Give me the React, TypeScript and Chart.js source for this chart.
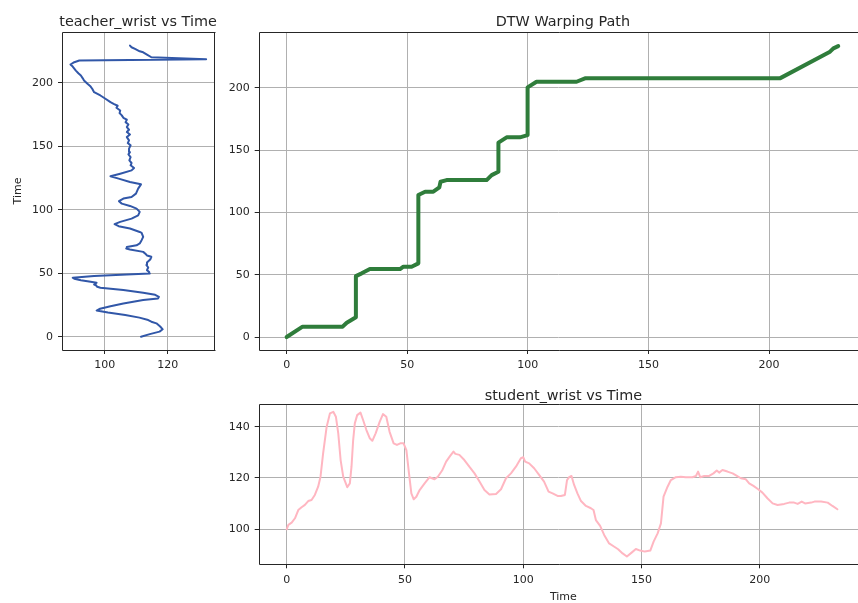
import React, { useEffect, useRef } from "react";
import { Chart, registerables } from "chart.js";
Chart.register(...registerables);

const FAMILY = "'DejaVu Sans', sans-serif";
const TEXT = "#262626";

// ---- teacher_wrist (value vs time) ----
const teacherTime = [0, 2, 4, 5.8, 8, 10.5, 11.8, 13.1, 15, 17, 19, 20.6, 22, 24, 26.2, 28.8, 30.1, 31.4, 33, 34.6, 36.7, 38.6, 39.3, 40.5, 41.1, 42.5, 43.5, 44.5, 45.6, 46.4, 47.7, 49, 49.8, 51, 52.4, 54.5, 56.5, 58.4, 61, 62.9, 64, 65.3, 66.8, 68.7, 69.4, 70.7, 72, 73.4, 76, 78.6, 81.8, 82.5, 85.2, 87, 88.6, 90.4, 93, 95.6, 98.3, 100.9, 103, 104.8, 106.7, 108.8, 110, 112.7, 116.6, 120, 121.9, 124.5, 126.3, 128.4, 131, 132.9, 135, 136.8, 138.9, 141.5, 143.6, 145.4, 148.1, 150.7, 152.5, 154.6, 157.2, 159.3, 161.2, 163, 165.1, 167.2, 169, 170.9, 172.4, 174.3, 176.1, 178.2, 180.3, 181.9, 183.4, 184.7, 187.4, 190, 192.6, 195.3, 197, 199.2, 201.8, 203.5, 205.7, 207.5, 209.6, 212.8, 214.4, 216.2, 217.5, 218.5, 220.1, 222.2, 224, 224.8, 226.7, 228, 229.3];
const teacherWrist = [111.5, 114.3, 117.4, 118.4, 117.6, 116.4, 114.8, 113.8, 111, 106.5, 101, 97.4, 98.5, 101.8, 105.9, 112.2, 116.9, 117.2, 116, 112.2, 105.9, 98.6, 97.6, 97.2, 96.6, 97.4, 95, 92.4, 90.3, 89.8, 96.6, 107, 114.3, 114.1, 113.4, 113.8, 113.2, 113.4, 114.5, 114.8, 113.4, 112.9, 112.2, 108, 106.8, 107, 110.1, 111.1, 111.7, 112.2, 111.7, 111.1, 108, 104.4, 103.1, 104.9, 108.5, 110.6, 111.1, 110.1, 108, 105.4, 104.5, 105.9, 108.5, 109.9, 110.6, 111.5, 108, 104.4, 101.8, 104.9, 108.5, 109.3, 108.2, 108.5, 107.8, 108.2, 107.5, 108, 107.7, 108.2, 107.3, 107.7, 107, 108, 107, 107.7, 107, 107.5, 106.6, 107, 105.9, 105.4, 104.7, 104.9, 103.7, 104.1, 102.8, 101.8, 100.2, 98.6, 96.6, 96, 95.5, 94.5, 93.4, 93, 92.4, 91.6, 90.8, 89.8, 89.1, 90.3, 91.9, 132.2, 114.8, 113.4, 112.2, 111.1, 109.6, 108.5, 108];

// ---- DTW warping path ----
const dtwTeacherIdx = [0, 6.6, 23.2, 24.9, 26.3, 28.7, 28.7, 31.1, 34.5, 47, 48.4, 51.8, 54.6, 54.6, 57.4, 60.8, 63.3, 63.8, 66.3, 82.9, 85, 87.8, 87.8, 91.2, 96.7, 99.9, 99.9, 103.6, 120.2, 123.7, 204.5, 225.3, 226.7, 228.7];
const dtwStudentIdx = [0, 8.3, 8.3, 11.5, 13.1, 15.8, 48.9, 51.1, 54.5, 54.5, 56.4, 56.4, 59.1, 113.9, 116.6, 116.6, 120, 124.6, 125.9, 125.9, 129.9, 132.6, 155.9, 160.2, 160.2, 162, 200.3, 204.8, 204.8, 207.5, 207.5, 228.9, 231.6, 233.4];

// ---- student_wrist vs time ----
const studentTime = [0, 0.7, 2.1, 3.5, 4.9, 6.3, 7.7, 9.1, 10.5, 11.9, 13.3, 14.3, 15.4, 16.9, 18.3, 19.7, 20.8, 21.8, 22.8, 23.9, 25.6, 26.7, 27.4, 28.1, 28.8, 29.8, 31.2, 32.3, 33.7, 35.1, 36.2, 37.6, 39.3, 40.7, 42.1, 43.5, 45.2, 46.6, 48, 49.4, 50.6, 51.7, 52.7, 53.7, 54.8, 56.2, 58.3, 60.4, 62.5, 63.9, 65.7, 67.4, 69.1, 70.5, 71.3, 73, 75.1, 77.2, 79.4, 81.5, 83.6, 85.7, 88.5, 90.6, 92.7, 94.8, 96.9, 99, 100, 100.8, 102.5, 104.6, 106.7, 108.8, 110.7, 112.4, 114.5, 115.9, 117.6, 118.5, 119.4, 120.4, 121.5, 122.9, 124.4, 126.5, 128.6, 129.7, 130.7, 132.5, 134.2, 136.3, 138.5, 140.1, 142, 143.8, 145.8, 147.6, 149.4, 151.4, 153.7, 155.1, 156.8, 158.2, 159.3, 161, 162.4, 164.5, 166.6, 168.7, 171.5, 173, 173.9, 174.8, 176.5, 178.6, 180.4, 181.8, 182.8, 184.2, 186.3, 188.5, 190.3, 192, 194.1, 195.5, 197.3, 199.3, 201.1, 203.2, 205.4, 207.5, 210.3, 212.4, 214.5, 216, 217.7, 219.1, 221.7, 223.1, 225.9, 228.7, 230.7, 232.8];
const studentWrist = [100, 101.7, 102.6, 104.3, 107.5, 108.6, 109.5, 111, 111.4, 113.4, 116.6, 120.5, 129.6, 140, 145.2, 145.8, 143.9, 137.4, 127, 120.5, 116.4, 117.9, 124.4, 134.8, 141.3, 144.5, 145.5, 142.6, 138.7, 135.5, 134.5, 137.4, 141.9, 144.9, 143.9, 138, 133.5, 132.9, 133.5, 133.5, 130.9, 121.8, 114, 111.7, 112.7, 115.3, 117.9, 120.3, 119.5, 120.5, 122.9, 126.4, 128.6, 130.3, 129.4, 129, 127, 124.4, 121.8, 118.6, 115.3, 113.6, 113.8, 115.6, 119.9, 121.8, 124.4, 127.7, 128.1, 126.4, 125.7, 123.8, 121.2, 118.6, 114.7, 114, 113, 113, 113.4, 119.2, 120.3, 120.8, 117.3, 114, 111, 109.1, 108.2, 107.5, 103.6, 101.3, 97.8, 94.5, 93.2, 92.2, 90.6, 89.4, 90.9, 92.3, 91.7, 91.3, 91.7, 95.2, 98.4, 102.3, 112.7, 116.6, 119.2, 120.3, 120.5, 120.3, 120.3, 120.8, 122.5, 120.3, 120.8, 120.8, 121.8, 122.9, 122.1, 123.1, 122.5, 121.8, 120.8, 119.9, 119.5, 117.9, 116.9, 115.6, 114.3, 112.1, 110.1, 109.5, 109.9, 110.4, 110.4, 109.9, 110.8, 110.1, 110.4, 110.8, 110.8, 110.4, 109.1, 107.8];

// ---- tick labels ----
const teacherXTicks = [100, 120];
const timeTicks = [0, 50, 100, 150, 200];
const studentYTicks = [100, 120, 140];

// spines: left/top/bottom always; right one only when it lies inside the figure
const framePlugin = {
  id: "frame",
  afterDraw(chart: any, _args: any, opts: any) {
    const { ctx, chartArea } = chart;
    const l = Math.round(chartArea.left) + 0.5;
    const t = Math.round(chartArea.top) + 0.5;
    const r = Math.round(chartArea.right) + 0.5;
    const b = Math.round(chartArea.bottom) + 0.5;
    ctx.save();
    ctx.strokeStyle = TEXT;
    ctx.lineWidth = 1;
    ctx.beginPath();
    ctx.moveTo(r + 1, t);
    ctx.lineTo(l, t);
    ctx.lineTo(l, b);
    ctx.lineTo(r + 1, b);
    if (opts && opts.right) {
      ctx.moveTo(r, t);
      ctx.lineTo(r, b);
    }
    ctx.stroke();
    ctx.restore();
  },
};

// axes title centred over the plot area (like matplotlib's set_title), optional x label
const axTitlePlugin = {
  id: "axTitle",
  afterDraw(chart: any, _args: any, opts: any) {
    const { ctx, chartArea } = chart;
    ctx.save();
    ctx.font = `14.4px ${FAMILY}`;
    ctx.fillStyle = TEXT;
    ctx.textAlign = "center";
    ctx.textBaseline = "alphabetic";
    ctx.fillText(opts.text, opts.centerX, chartArea.top - opts.gap);
    if (opts.xlabel) {
      ctx.font = `11px ${FAMILY}`;
      ctx.textBaseline = "middle";
      ctx.fillText(opts.xlabel, opts.centerX, chart.height - 8.1);
    }
    ctx.restore();
  },
};

function axis(min: number, max: number, ticks: number[], horizontal: boolean, size: number, title?: any) {
  return {
    type: "linear",
    min,
    max,
    afterBuildTicks: (s: any) => {
      s.ticks = ticks.map((v) => ({ value: v }));
    },
    afterFit: (s: any) => {
      if (horizontal) s.height = size;
      else s.width = size;
    },
    grid: { color: "#b0b0b0", lineWidth: 1, drawTicks: true, tickLength: 4, tickColor: TEXT, tickWidth: 1 },
    border: { display: false },
    ticks: {
      font: { family: FAMILY, size: 11 },
      color: TEXT,
      padding: 5,
      autoSkip: false,
      maxRotation: 0,
      callback: (v: any) => String(v),
    },
    title: title || { display: false },
  };
}

function toPoints(xs: number[], ys: number[]) {
  return xs.map((x, i) => ({ x, y: ys[i] }));
}

function makeConfig(opts: {
  title: string;
  titleX: number;
  gap: number;
  top: number;
  xlabel?: string;
  data: { x: number; y: number }[];
  color: string;
  width: number;
  x: any;
  y: any;
  padRight: number;
  rightSpine: boolean;
}) {
  return {
    type: "scatter",
    data: {
      datasets: [
        {
          data: opts.data,
          showLine: true,
          borderColor: opts.color,
          backgroundColor: opts.color,
          borderWidth: opts.width,
          pointRadius: 0,
          tension: 0,
          borderJoinStyle: "round",
          borderCapStyle: "round",
        },
      ],
    },
    options: {
      animation: false,
      responsive: false,
      layout: { padding: { left: 0, top: opts.top, bottom: 0, right: opts.padRight } },
      plugins: {
        legend: { display: false },
        tooltip: { enabled: false },
        title: { display: false },
        frame: { right: opts.rightSpine },
        axTitle: { text: opts.title, gap: opts.gap, centerX: opts.titleX, xlabel: opts.xlabel || "" },
      },
      scales: { x: opts.x, y: opts.y },
    },
    plugins: [framePlugin, axTitlePlugin],
  };
}

function Panel({ box, config }: { box: { left: number; top: number; width: number; height: number }; config: () => any }) {
  const ref = useRef<HTMLCanvasElement>(null);
  useEffect(() => {
    const chart = new Chart(ref.current as HTMLCanvasElement, config());
    return () => chart.destroy();
  }, []);
  return (
    <canvas
      ref={ref}
      width={box.width}
      height={box.height}
      style={{ position: "absolute", left: box.left, top: box.top, width: box.width, height: box.height }}
    />
  );
}

const axisTitleFont = { family: FAMILY, size: 11 };

export default function App() {
  return (
    <div style={{ position: "fixed", left: 0, top: 0, width: 858, height: 603, overflow: "hidden", background: "#fff" }}>
      <Panel
        box={{ left: 0, top: 0, width: 230, height: 375 }}
        config={() =>
          makeConfig({
            title: "teacher_wrist vs Time",
            titleX: 138,
            gap: 6.5,
            top: 32,
            data: toPoints(teacherWrist, teacherTime),
            color: "#3157a8",
            width: 2,
            padRight: 16,
            rightSpine: true,
            x: axis(86.4, 134.7, teacherXTicks, true, 25),
            y: axis(-10.5, 240, timeTicks, false, 62, {
              display: true,
              text: "Time",
              color: TEXT,
              font: axisTitleFont,
              padding: { top: 11.5, bottom: 0 },
            }),
          })
        }
      />
      <Panel
        box={{ left: 215, top: 0, width: 643, height: 375 }}
        config={() =>
          makeConfig({
            title: "DTW Warping Path",
            titleX: 562.85 - 215,
            gap: 6.5,
            top: 32,
            data: toPoints(dtwTeacherIdx, dtwStudentIdx),
            color: "#2f7d3b",
            width: 4,
            padRight: 0,
            rightSpine: false,
            x: axis(-11.6, 236.9, timeTicks, true, 25),
            y: axis(-10.4, 244.7, timeTicks, false, 43.7),
          })
        }
      />
      <Panel
        box={{ left: 215, top: 375, width: 643, height: 230 }}
        config={() =>
          makeConfig({
            title: "student_wrist vs Time",
            titleX: 563.35 - 215,
            gap: 4.8,
            top: 29.3,
            xlabel: "Time",
            data: toPoints(studentTime, studentWrist),
            color: "#ffb6c1",
            width: 2,
            padRight: 0,
            rightSpine: false,
            x: axis(-11.83, 241.5, timeTicks, true, 40.7),
            y: axis(86.35, 148.73, studentYTicks, false, 43.7),
          })
        }
      />
    </div>
  );
}
